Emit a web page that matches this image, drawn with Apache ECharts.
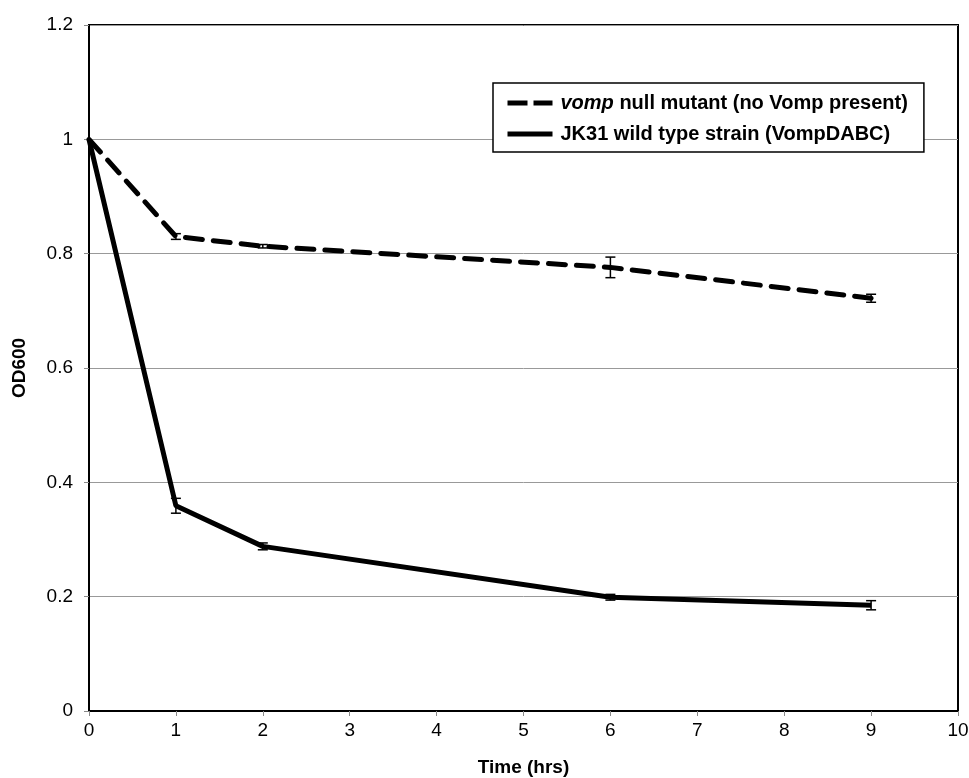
<!DOCTYPE html>
<html>
<head>
<meta charset="utf-8">
<script src="https://cdn.jsdelivr.net/npm/echarts@6/dist/echarts.min.js"></script>
<style>html,body{margin:0;padding:0;background:#fff;}#c{width:969px;height:778px;}</style>
</head>
<body>
<div id="c"></div>
<script>
var times = [0, 1, 2, 6, 9];
var mutantName = 'vomp null mutant (no Vomp present)';
var wildName = 'JK31 wild type strain (VompDABC)';
var mutantValues = [1.0, 0.830, 0.813, 0.776, 0.722];
var mutantErrors = [0.0, 0.005, 0.003, 0.018, 0.007];
var wildValues = [1.0, 0.359, 0.288, 0.199, 0.185];
var wildErrors = [0.0, 0.013, 0.006, 0.005, 0.008];
var xTicks = [0,1,2,3,4,5,6,7,8,9,10];
var yTicks = [0, 0.2, 0.4, 0.6, 0.8, 1, 1.2];

var FONT = 'Liberation Sans, Arial, Helvetica, sans-serif';
function pairs(xs, ys){ return xs.map(function(x,i){ return [x, ys[i]]; }); }
function errData(xs, ys, es){ return xs.map(function(x,i){ return [x, ys[i]-es[i], ys[i]+es[i]]; }).filter(function(d){ return d[2]-d[1] > 0; }); }

function renderErr(params, api){
  var x = api.value(0);
  var lo = api.coord([x, api.value(1)]);
  var hi = api.coord([x, api.value(2)]);
  var w = 5;
  var st = {stroke:'#000', lineWidth:1.5};
  return {type:'group', children:[
    {type:'line', shape:{x1:lo[0], y1:lo[1], x2:hi[0], y2:hi[1]}, style:st},
    {type:'line', shape:{x1:lo[0]-w, y1:lo[1], x2:lo[0]+w, y2:lo[1]}, style:st},
    {type:'line', shape:{x1:hi[0]-w, y1:hi[1], x2:hi[0]+w, y2:hi[1]}, style:st}
  ]};
}

var chart = echarts.init(document.getElementById('c'));
chart.setOption({
  animation: false,
  backgroundColor: '#fff',
  grid: {left: 89, top: 25, right: 11, bottom: 67, show: true, borderColor: '#000', borderWidth: 2, containLabel: false, outerBoundsMode: 'none'},
  legend: {
    orient: 'vertical', left: 493, top: 83,
    data: [
      {name: mutantName, lineStyle: {type: [20, 6], width: 5, color: '#000', cap: 'butt'}},
      {name: wildName, lineStyle: {type: 'solid', width: 5, color: '#000', cap: 'butt'}}
    ],
    backgroundColor: '#fff', borderColor: '#000', borderWidth: 1.5,
    padding: [10, 16, 8, 12], itemGap: 11, itemWidth: 45, itemHeight: 14,
    itemStyle: {opacity: 0},
    lineStyle: {width: 5, color: '#000'},
    formatter: function(n){ return n === mutantName ? '{i|vomp} null mutant (no Vomp present)' : n; },
    textStyle: {fontFamily: FONT, fontSize: 20, fontWeight: 'bold', color: '#000', padding: [0,0,0,3],
      rich: {i: {fontStyle: 'italic', fontWeight: 'bold', fontSize: 20, fontFamily: FONT, color:'#000'}}}
  },
  xAxis: {
    type: 'value', min: 0, max: 10, interval: 1,
    name: 'Time (hrs)', nameLocation: 'middle', nameGap: 47,
    nameTextStyle: {fontFamily: FONT, fontSize: 19, fontWeight: 'bold', color: '#000'},
    axisLine: {show: true, lineStyle: {color: '#000', width: 2}},
    axisTick: {show: true, length: 5, lineStyle: {color: '#888', width: 1}},
    axisLabel: {fontFamily: FONT, fontSize: 19, color: '#000', margin: 10,
      formatter: function(v){ return xTicks.indexOf(v) >= 0 ? String(v) : ''; }},
    splitLine: {show: false}
  },
  yAxis: {
    type: 'value', min: 0, max: 1.2, interval: 0.2,
    name: 'OD600', nameLocation: 'middle', nameGap: 60, nameRotate: 90,
    nameTextStyle: {fontFamily: FONT, fontSize: 19, fontWeight: 'bold', color: '#000'},
    axisLine: {show: true, lineStyle: {color: '#000', width: 2}},
    axisTick: {show: true, length: 5, lineStyle: {color: '#888', width: 1}},
    axisLabel: {fontFamily: FONT, fontSize: 19, color: '#000', margin: 16,
      formatter: function(v){ var r = Math.round(v*10)/10; return String(r); }},
    splitLine: {show: true, lineStyle: {color: '#999', width: 1}}
  },
  series: [
    {name: mutantName, type: 'line', data: pairs(times, mutantValues), symbol: 'none', showSymbol: false,
      lineStyle: {color: '#000', width: 5, type: [17, 11], cap: 'round'}, itemStyle: {color: '#000'}, z: 3},
    {name: wildName, type: 'line', data: pairs(times, wildValues), symbol: 'none', showSymbol: false,
      lineStyle: {color: '#000', width: 5, type: 'solid'}, itemStyle: {color: '#000'}, z: 3},
    {type: 'custom', renderItem: renderErr, data: errData(times, mutantValues, mutantErrors), encode: {x: 0, y: [1, 2]}, z: 4},
    {type: 'custom', renderItem: renderErr, data: errData(times, wildValues, wildErrors), encode: {x: 0, y: [1, 2]}, z: 4}
  ]
});
</script>
</body>
</html>
